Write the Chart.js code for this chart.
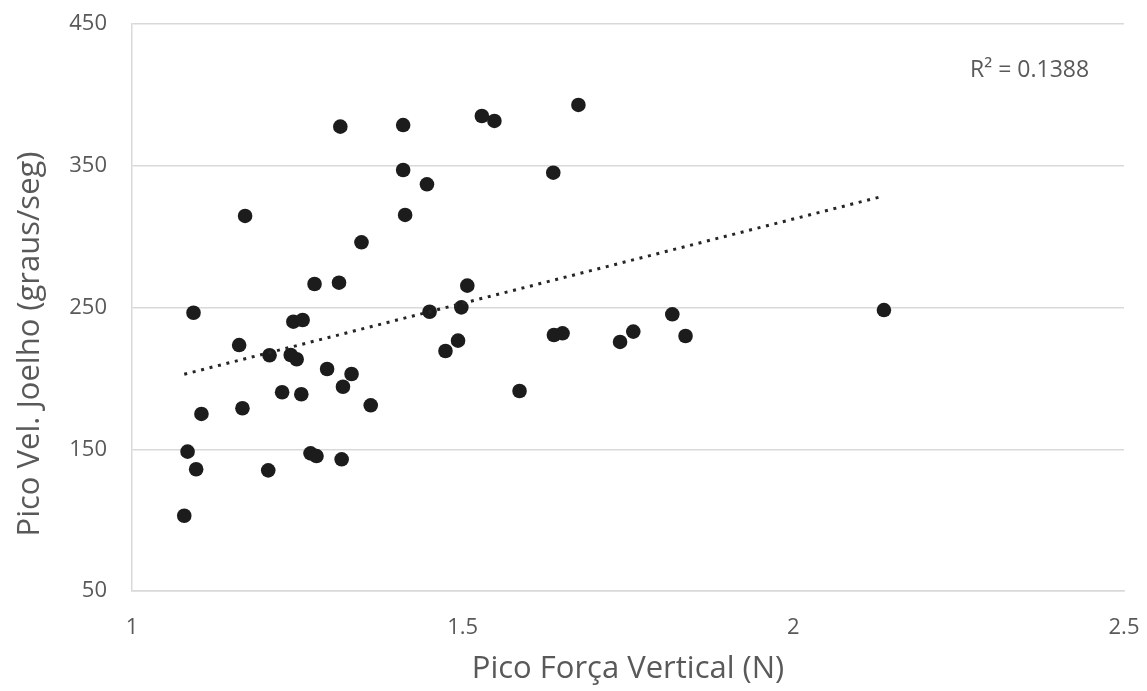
<!DOCTYPE html>
<html>
<head>
<meta charset="utf-8">
<script src="https://cdn.jsdelivr.net/npm/chart.js@4"></script>
<style>
  html, body { margin: 0; padding: 0; background: #ffffff; }
  #wrap { width: 1147px; height: 691px; }
</style>
</head>
<body>
<div id="wrap"><canvas id="c" width="1147" height="691"></canvas></div>
<script>
// Data
const forcaX = [1.079, 1.084, 1.097, 1.093, 1.105, 1.171, 1.162, 1.167, 1.208, 1.206,
                1.227, 1.244, 1.258, 1.240, 1.249, 1.256, 1.276, 1.270, 1.279, 1.315,
                1.313, 1.295, 1.319, 1.332, 1.317, 1.361, 1.347,
                1.410, 1.410, 1.446, 1.413, 1.529, 1.548, 1.675, 1.637, 1.507, 1.450,
                1.498, 1.493, 1.474, 1.586, 1.638, 1.651, 1.738, 1.758, 1.817, 1.837, 2.137];
const velY   = [103.1, 148.3, 135.9, 246.3, 174.9, 314.6, 223.5, 178.9, 216.3, 135.1,
                190.2, 240.0, 241.2, 216.5, 213.5, 188.8, 266.6, 147.1, 145.2, 377.6,
                267.5, 206.6, 194.1, 203.1, 142.9, 181.0, 296.0,
                378.7, 347.0, 336.9, 315.3, 385.1, 381.6, 392.9, 345.1, 265.4, 247.0,
                250.1, 226.6, 219.3, 191.1, 230.6, 231.8, 225.7, 233.0, 245.2, 229.9, 248.2];
// Linear trendline end points
const trendX = [1.079, 2.137];
const trendY = [202.9, 328.7];
const r2Label = 'R\u00b2 = 0.1388';

const xTickValues = [1, 1.5, 2, 2.5];
const xTickLabels = ['1', '1.5', '2', '2.5'];
const yTickValues = [50, 150, 250, 350, 450];
const yTickLabels = ['50', '150', '250', '350', '450'];

const xTitle = 'Pico For\u00e7a Vertical (N)';
const yTitle = 'Pico Vel. Joelho (graus/seg)';

const scatterPts = forcaX.map((x, i) => ({ x: x, y: velY[i] }));
const trendPts = trendX.map((x, i) => ({ x: x, y: trendY[i] }));

const TEXT = '#595959';
const FONT = "'Open Sans', 'DejaVu Sans', sans-serif";
const CLEAR = 'rgba(0,0,0,0)';

const extraText = {
  id: 'extraText',
  afterDraw(chart) {
    const ctx = chart.ctx;
    ctx.save();
    ctx.fillStyle = TEXT;
    // R² label
    ctx.font = "23px " + FONT;
    ctx.textAlign = 'left';
    ctx.textBaseline = 'alphabetic';
    ctx.fillText(r2Label, 970, 77);
    // Y axis title (centred on chart height like the original)
    ctx.translate(30, 344);
    ctx.rotate(-Math.PI / 2);
    ctx.font = "31px " + FONT;
    ctx.textAlign = 'center';
    ctx.textBaseline = 'middle';
    ctx.fillText(yTitle, 0, 0);
    ctx.restore();
  }
};

new Chart(document.getElementById('c'), {
  type: 'scatter',
  data: {
    datasets: [
      {
        label: 'Linear trend',
        data: trendPts,
        showLine: true,
        pointRadius: 0,
        borderColor: '#262626',
        borderWidth: 3,
        borderDash: [3, 5.7],
        borderCapStyle: 'butt',
        fill: false
      },
      {
        label: 'Pico Vel. Joelho',
        data: scatterPts,
        pointRadius: 7.3,
        pointHoverRadius: 7.3,
        pointBackgroundColor: '#1c1c1c',
        pointBorderColor: '#1c1c1c',
        pointBorderWidth: 0,
        showLine: false
      }
    ]
  },
  options: {
    responsive: false,
    animation: false,
    devicePixelRatio: 1,
    layout: { padding: { top: 24, right: 23, left: 0, bottom: 0 } },
    plugins: {
      legend: { display: false },
      tooltip: { enabled: false },
      title: { display: false }
    },
    scales: {
      x: {
        type: 'linear',
        min: 1,
        max: 2.5,
        afterBuildTicks(scale) { scale.ticks = xTickValues.map(v => ({ value: v })); },
        afterFit(scale) { scale.height = 100; },
        grid: { display: true, color: CLEAR, drawTicks: true, tickLength: 22, tickColor: CLEAR },
        border: { display: true, color: '#d9d9d9', width: 1.5 },
        ticks: {
          padding: 2,
          color: TEXT,
          font: { family: FONT, size: 22 },
          callback(v) { const i = xTickValues.indexOf(v); return i >= 0 ? xTickLabels[i] : ''; }
        },
        title: {
          display: true,
          text: xTitle,
          color: TEXT,
          font: { family: FONT, size: 31 },
          padding: { top: 0, bottom: 3 }
        }
      },
      y: {
        type: 'linear',
        min: 50,
        max: 450,
        afterBuildTicks(scale) { scale.ticks = yTickValues.map(v => ({ value: v })); },
        afterFit(scale) { scale.width = 132; },
        grid: { color: '#d9d9d9', lineWidth: 1.5, drawTicks: true, tickLength: 22, tickColor: CLEAR },
        border: { display: true, color: '#d9d9d9', width: 1.5 },
        ticks: {
          padding: 3,
          color: TEXT,
          font: { family: FONT, size: 22 },
          callback(v) { const i = yTickValues.indexOf(v); return i >= 0 ? yTickLabels[i] : ''; }
        }
      }
    }
  },
  plugins: [extraText]
});
</script>
</body>
</html>
